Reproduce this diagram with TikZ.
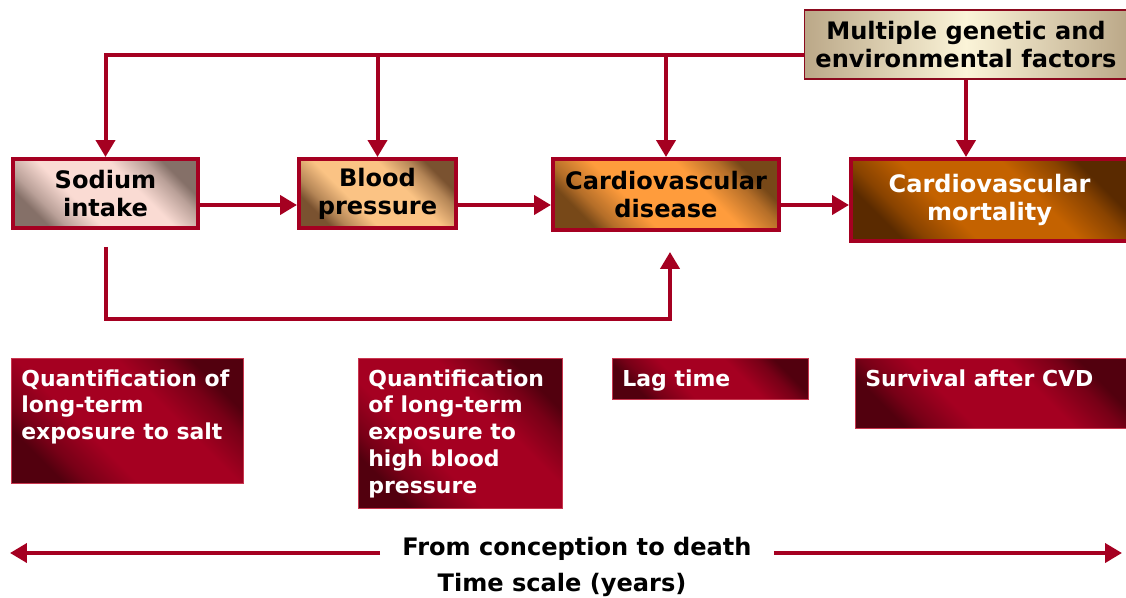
\documentclass[tikz,border=0pt]{standalone}
\usepackage{fontspec}
\setmainfont{DejaVu Sans}
\usepackage{xcolor}
\usetikzlibrary{positioning, arrows.meta}
\definecolor{flowred}{HTML}{A50021}
\definecolor{noteDark}{HTML}{52000E}
\definecolor{noteEdge}{HTML}{C8364E}
\definecolor{sodLight}{HTML}{FADBD3}
\definecolor{sodDark}{HTML}{857068}
\definecolor{bpLight}{HTML}{FBC384}
\definecolor{bpDark}{HTML}{7A5230}
\definecolor{cvdLight}{HTML}{FF9C3C}
\definecolor{cvdDark}{HTML}{774818}
\definecolor{mortLight}{HTML}{C46200}
\definecolor{mortDark}{HTML}{5A2A00}
\definecolor{mgfLight}{HTML}{FBF4D8}
\definecolor{mgfDark}{HTML}{BBA888}
\definecolor{mgfEdge}{HTML}{8B0A1E}
\colorlet{cornerDark}{black}
\colorlet{cornerLight}{white}

% dark in two opposite corners, light band across the middle
\pgfdeclareverticalshading[cornerDark,cornerLight]{cornerglow}{100bp}{%
  color(0bp)=(cornerDark); color(25bp)=(cornerDark);
  color(30bp)=(cornerDark!55!cornerLight); color(40bp)=(cornerLight);
  color(60bp)=(cornerLight); color(70bp)=(cornerDark!55!cornerLight);
  color(75bp)=(cornerDark); color(100bp)=(cornerDark)}

\newcommand\stagefont{\fontsize{13.7}{16}\selectfont\bfseries}
\newcommand\notefont{\fontsize{12.5}{15.3}\selectfont\bfseries}

\tikzset{
  glow/.style 2 args={/utils/exec={\colorlet{cornerDark}{#1}\colorlet{cornerLight}{#2}},
    shading=cornerglow, shading angle=-45},
  flow/.style={draw=flowred, line width=0.08cm, -{Triangle[length=0.34cm, width=0.38cm]}},
  stagebox/.style 2 args={draw=flowred, line width=0.08cm, glow={#1}{#2},
    align=center, font=\stagefont, inner sep=0pt},
  notebox/.style={anchor=north west, draw=noteEdge, line width=0.6pt,
    glow={noteDark}{flowred}, inner sep=0pt},
  notetext/.style={anchor=north west, text=white, align=left, font=\notefont,
    inner xsep=0.2cm, inner ysep=0.22cm}
}

\begin{document}
\begin{tikzpicture}[x=0.02cm, y=-0.02cm]
  \useasboundingbox (0,0) rectangle (1126,598);

  % causal chain
  \node[stagebox={sodDark}{sodLight}, minimum width=3.70cm, minimum height=1.38cm]
    (sod) at (105.5,193.5) {Sodium\\intake};
  \node[stagebox={bpDark}{bpLight}, minimum width=3.14cm, minimum height=1.38cm]
    (bp) at (377.5,193.5) {Blood\\pressure};
  \node[stagebox={cvdDark}{cvdLight}, minimum width=4.52cm, minimum height=1.42cm]
    (cvd) at (666,194.5) {Cardiovascular\\disease};
  \node[stagebox={mortDark}{mortLight}, text=white, minimum width=5.54cm, minimum height=1.64cm]
    (mort) at (989.5,200) {Cardiovascular\\mortality};
  \node[draw=mgfEdge, line width=0.8pt, left color=mgfDark, right color=mgfDark,
        middle color=mgfLight, align=center, font=\stagefont, inner sep=0pt,
        minimum width=6.46cm, minimum height=1.38cm]
    (mgf) at (966,44.5) {Multiple genetic and\\environmental factors};

  \coordinate (bus) at (0,55);
  \coordinate (row) at (0,205);
  \draw[flow] (mgf.west |- bus) -| (sod.north);
  \draw[flow] (bp.north |- bus) -- (bp.north);
  \draw[flow] (cvd.north |- bus) -- (cvd.north);
  \draw[flow] (mgf.south) -- (mgf.south |- mort.north);

  \draw[flow] (sod.east |- row) -- (bp.west |- row);
  \draw[flow] (bp.east |- row) -- (cvd.west |- row);
  \draw[flow] (cvd.east |- row) -- (mort.west |- row);

  \draw[flow] ([yshift=-0.34cm]sod.south) -- ++(0,72) -| ([xshift=0.08cm, yshift=-0.4cm]cvd.south);

  % what has to be measured
  \node[notebox, minimum width=4.64cm, minimum height=2.5cm] (q1) at (11,358) {};
  \node[notetext] (q1text) at (q1.north west) {Quantification of\\long-term\\exposure to salt};
  \node[notebox, minimum width=4.08cm, minimum height=3.0cm] (q2) at (358,358) {};
  \node[notetext] (q2text) at (q2.north west) {Quantification\\of long-term\\exposure to\\high blood\\pressure};
  \node[notebox, minimum width=3.92cm, minimum height=0.82cm] (lag) at (612,358) {};
  \node[notetext] (lagtext) at (lag.north west) {Lag time};
  \node[notebox, minimum width=5.46cm, minimum height=1.40cm] (surv) at (855,358) {};
  \node[notetext] (survtext) at (surv.north west) {Survival after CVD};

  % time axis
  \node[font=\stagefont, inner xsep=0.44cm] (span) at (577,549) {From conception to death};
  \coordinate (birth) at (10,553);
  \coordinate (death) at (1122,553);
  \draw[flow] (span.west |- birth) -- (birth);
  \draw[flow] (span.east |- death) -- (death);
  \node[font=\stagefont] (scale) at (562,585) {Time scale (years)};
\end{tikzpicture}
\end{document}
